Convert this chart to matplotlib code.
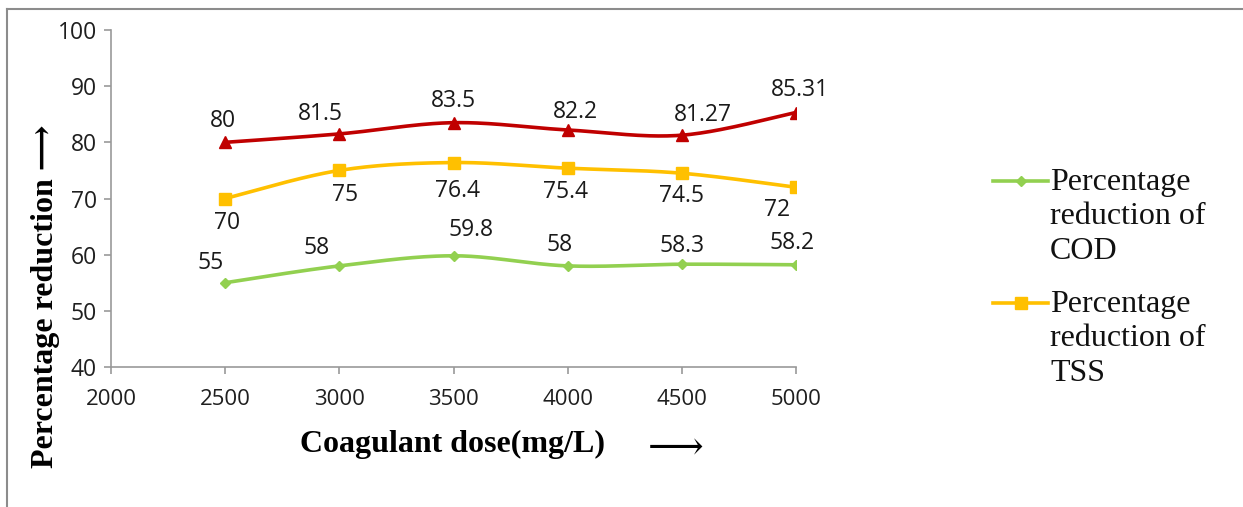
import numpy as np
import matplotlib
matplotlib.use("Agg")
import matplotlib.pyplot as plt
from matplotlib.lines import Line2D

# ---- data -------------------------------------------------------------
dose = [2500, 3000, 3500, 4000, 4500, 5000]
cod_reduction = [55, 58, 59.8, 58, 58.3, 58.2]
tss_reduction = [70, 75, 76.4, 75.4, 74.5, 72]
third_reduction = [80, 81.5, 83.5, 82.2, 81.27, 85.31]

x_ticks = [2000, 2500, 3000, 3500, 4000, 4500, 5000]
y_ticks = [40, 50, 60, 70, 80, 90, 100]

cod_label = "Percentage\nreduction of\nCOD"
tss_label = "Percentage\nreduction of\nTSS"

# label offsets in pixels (dx, dy) for each point's value label
third_offsets = [(-2, 21), (-19, 20), (0, 22), (8, 18), (21, 20), (4, 23)]
tss_offsets = [(2, -24), (6, -25), (4, -28), (-2, -24), (0, -23), (-19, -23)]
cod_offsets = [(-15, 20), (-23, 18), (17, 26), (-8, 21), (0, 18), (-4, 22)]

RED = "#C00000"
ORANGE = "#FFC000"
GREEN = "#92D050"

W, H = 1243, 507
fig = plt.figure(figsize=(W / 100, H / 100), dpi=100)


def fx(px):
    return px / W


def fy(py):
    return 1 - py / H


ax = fig.add_axes([fx(111), fy(367), fx(796) - fx(111), fy(30) - fy(367)])


def smooth(xs, ys, n=40):
    """Bezier smoothing through the points (spreadsheet-style smoothed line)."""
    xs = np.asarray(xs, float)
    ys = np.asarray(ys, float)
    sx = (xs - xs.min()) / (xs.max() - xs.min()) * 6.0
    sy = ys / 10.0
    P = np.column_stack([sx, sy])
    out = []
    m = len(P)
    for i in range(m - 1):
        p0 = P[i - 1] if i > 0 else P[i]
        p1 = P[i]
        p2 = P[i + 1]
        p3 = P[i + 2] if i + 2 < m else P[i + 1]
        c1 = p1 + (p2 - p0) / 6.0
        c2 = p2 - (p3 - p1) / 6.0
        t = np.linspace(0, 1, n)[:, None]
        seg = ((1 - t) ** 3) * p1 + 3 * ((1 - t) ** 2) * t * c1 + 3 * (1 - t) * t ** 2 * c2 + t ** 3 * p2
        out.append(seg if i == 0 else seg[1:])
    C = np.vstack(out)
    cx = C[:, 0] / 6.0 * (xs.max() - xs.min()) + xs.min()
    cy = C[:, 1] * 10.0
    return cx, cy


def draw_series(vals, color, marker, msize, offsets):
    cx, cy = smooth(dose, vals)
    ax.plot(cx, cy, color=color, lw=2.6, solid_capstyle="round", zorder=3)
    ax.plot(dose, vals, ls="none", marker=marker, ms=msize, color=color,
            markeredgecolor=color, zorder=4)
    for xv, yv, (dx, dy) in zip(dose, vals, offsets):
        ax.annotate(f"{yv:g}", (xv, yv), xytext=(dx * 0.72, dy * 0.72),
                    textcoords="offset points", ha="center", va="center",
                    fontsize=16.5, family="Open Sans", color="#1a1a1a")


draw_series(third_reduction, RED, "^", 8, third_offsets)
draw_series(tss_reduction, ORANGE, "s", 8.5, tss_offsets)
draw_series(cod_reduction, GREEN, "D", 5.5, cod_offsets)

ax.set_xlim(2000, 5000)
ax.set_ylim(40, 100)
ax.set_xticks(x_ticks)
ax.set_yticks(y_ticks)
ax.set_xticklabels([str(v) for v in x_ticks], family="Open Sans", fontsize=16,
                   color="#1f1f1f")
ax.set_yticklabels([str(v) for v in y_ticks], family="Open Sans", fontsize=16.5,
                   color="#1f1f1f")
for side in ("top", "right"):
    ax.spines[side].set_visible(False)
for side in ("left", "bottom"):
    ax.spines[side].set_color("#999999")
    ax.spines[side].set_linewidth(1.2)
ax.tick_params(axis="both", direction="out", length=5, color="#999999", width=1.2)
ax.tick_params(axis="x", pad=11)
ax.tick_params(axis="y", pad=5)

# axis titles
fig.text(fx(46), fy(296), "Percentage reduction \u27f6", rotation=90,
         ha="center", va="center", fontsize=23, fontweight="bold",
         family=["Liberation Serif", "DejaVu Serif"])
fig.text(fx(453), fy(444), "Coagulant dose(mg/L)", ha="center", va="center",
         fontsize=23, fontweight="bold", family="Liberation Serif")
fig.text(fx(676), fy(448), "\u27f6", ha="center", va="center",
         fontsize=28, family="DejaVu Serif")

# legend
for (py, color, marker, msize, label) in [
    (181, GREEN, "D", 5.5, cod_label),
    (303, ORANGE, "s", 8.5, tss_label),
]:
    fig.add_artist(Line2D([fx(993), fx(1048)], [fy(py), fy(py)], color=color,
                          lw=2.6, transform=fig.transFigure))
    fig.add_artist(Line2D([fx(1020.5)], [fy(py)], color=color, marker=marker,
                          ms=msize, transform=fig.transFigure))
    fig.text(fx(1050), fy(py - 13), label, ha="left", va="top", fontsize=23,
             family="Liberation Serif", linespacing=1.25, color="#111111")

# outer frame
fig.add_artist(Line2D([fx(7), fx(W)], [fy(8.5), fy(8.5)], color="#8c8c8c",
                      lw=1.5, transform=fig.transFigure))
fig.add_artist(Line2D([fx(7), fx(7)], [fy(8.5), fy(H)], color="#8c8c8c",
                      lw=1.5, transform=fig.transFigure))

fig.savefig("out.png", dpi=100)
